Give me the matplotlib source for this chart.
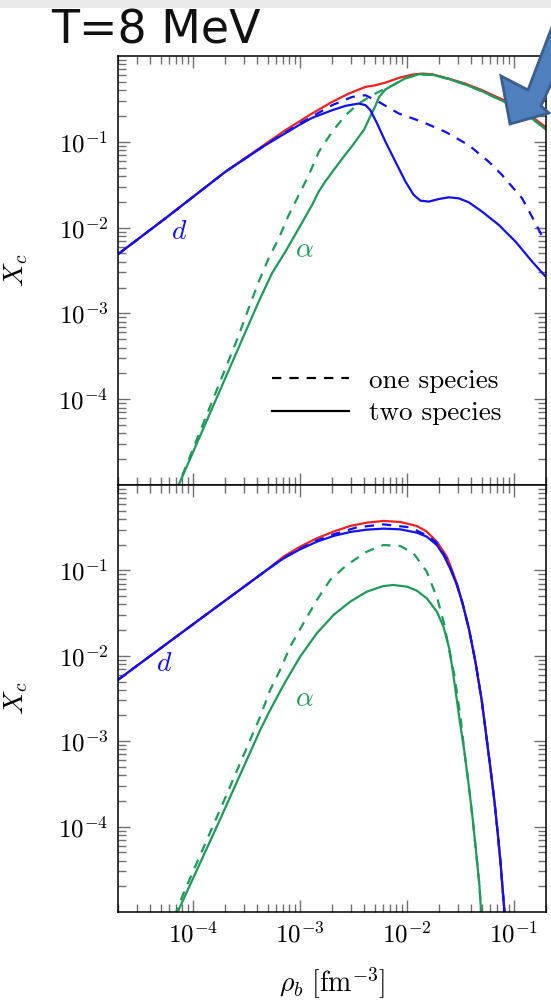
import numpy as np
import matplotlib
matplotlib.use("Agg")
import matplotlib.pyplot as plt
from matplotlib.lines import Line2D
from matplotlib.patches import Polygon, Rectangle
from matplotlib.ticker import LogLocator, NullFormatter

plt.rcParams['mathtext.fontset'] = 'cm'
plt.rcParams['font.family'] = ['cmr10', 'DejaVu Serif']
plt.rcParams['axes.formatter.use_mathtext'] = True

# ---------------- data (log10 values) ----------------
# upper panel
top_tot_lx = [-4.707, -4.255, -3.695, -3.321, -3.134, -3.009, -2.885, -2.698, -2.542, -2.386, -2.293, -2.199,
              -2.075, -1.950, -1.857, -1.763, -1.607, -1.452, -1.296, -1.140, -0.984, -0.829, -0.704]
top_tot_ly = [-2.318, -1.891, -1.349, -1.025, -0.864, -0.767, -0.670, -0.535, -0.438, -0.360, -0.341, -0.310,
              -0.256, -0.217, -0.205, -0.213, -0.264, -0.322, -0.399, -0.488, -0.574, -0.709, -0.826]

top_d_two_lx = [-4.707, -4.255, -3.695, -3.321, -3.009, -2.885, -2.698, -2.573, -2.449, -2.386, -2.340, -2.277,
                -2.199, -2.106, -2.012, -1.935, -1.872, -1.794, -1.701, -1.607, -1.514, -1.421, -1.296, -1.140,
                -0.984, -0.829, -0.704]
top_d_two_ly = [-2.318, -1.891, -1.349, -1.039, -0.806, -0.721, -0.632, -0.581, -0.554, -0.573, -0.632, -0.787,
                -1.000, -1.232, -1.465, -1.620, -1.686, -1.697, -1.667, -1.647, -1.659, -1.705, -1.814, -1.969,
                -2.163, -2.395, -2.570]

top_d_one_lx = [-4.707, -4.255, -3.695, -3.321, -3.009, -2.885, -2.698, -2.511, -2.386, -2.262, -2.075, -1.857,
                -1.639, -1.421, -1.234, -1.109, -0.922, -0.797, -0.710]
top_d_one_ly = [-2.318, -1.891, -1.349, -1.035, -0.795, -0.705, -0.573, -0.477, -0.457, -0.535, -0.670, -0.767,
                -0.884, -1.039, -1.232, -1.388, -1.659, -1.949, -2.163]

top_a_two_lx = [-4.16, -3.383, -3.259, -3.134, -3.009, -2.885, -2.823, -2.760, -2.636, -2.50, -2.40, -2.34, -2.30,
                -2.26, -2.20, -2.137, -2.013, -1.888, -1.763, -1.607, -1.452, -1.296, -1.140, -0.984, -0.829, -0.704]
top_a_two_ly = [-5.08, -2.860, -2.530, -2.279, -2.008, -1.736, -1.58, -1.46, -1.25, -1.03, -0.86, -0.70, -0.60,
                -0.48, -0.39, -0.345, -0.26, -0.213, -0.218, -0.268, -0.333, -0.411, -0.504, -0.593, -0.729, -0.853]

top_a_one_lx = [-4.16, -3.586, -3.477, -3.383, -3.290, -3.196, -3.103, -3.009, -2.916, -2.822, -2.698, -2.573,
                -2.449, -2.324, -2.199, -2.137, -2.013, -1.888, -1.763, -1.607, -1.452, -1.296, -1.140, -0.984,
                -0.829, -0.704]
top_a_one_ly = [-5.08, -3.306, -2.938, -2.628, -2.356, -2.124, -1.853, -1.620, -1.387, -1.116, -0.884, -0.690,
                -0.554, -0.457, -0.380, -0.345, -0.26, -0.213, -0.218, -0.268, -0.333, -0.411, -0.504, -0.593,
                -0.729, -0.853]

# lower panel
bot_d_two_lx = [-4.710, -4.243, -3.775, -3.308, -3.152, -2.997, -2.841, -2.685, -2.529, -2.374, -2.218, -2.062,
                -1.906, -1.813, -1.719, -1.657, -1.595, -1.532, -1.480, -1.420, -1.360, -1.300, -1.258, -1.218,
                -1.180, -1.148, -1.122, -1.100, -1.083]
bot_d_two_ly = [-2.291, -1.858, -1.425, -0.995, -0.859, -0.753, -0.664, -0.597, -0.550, -0.523, -0.511, -0.519,
                -0.558, -0.605, -0.703, -0.820, -0.976, -1.171, -1.38, -1.68, -2.06, -2.52, -2.926, -3.319,
                -3.712, -4.105, -4.45, -4.80, -5.05]

bot_tot_lx = [-4.710, -4.243, -3.775, -3.308, -3.152, -2.997, -2.841, -2.685, -2.529, -2.374, -2.218, -2.062,
              -1.906, -1.813, -1.719, -1.626, -1.595, -1.532, -1.480, -1.420, -1.360, -1.300, -1.258, -1.218,
              -1.180, -1.148, -1.122, -1.100, -1.083]
bot_tot_ly = [-2.291, -1.858, -1.425, -0.995, -0.839, -0.722, -0.624, -0.546, -0.480, -0.441, -0.421, -0.433,
              -0.480, -0.546, -0.664, -0.839, -0.937, -1.151, -1.38, -1.68, -2.06, -2.52, -2.926, -3.319,
              -3.712, -4.105, -4.45, -4.80, -5.05]

bot_d_one_lx = [-4.710, -4.243, -3.775, -3.308, -3.152, -2.997, -2.841, -2.685, -2.467, -2.218, -1.969, -1.797,
                -1.719, -1.626, -1.532, -1.480, -1.420, -1.360, -1.300, -1.258, -1.218, -1.180, -1.148, -1.122,
                -1.100, -1.083]
bot_d_one_ly = [-2.291, -1.858, -1.425, -0.995, -0.855, -0.745, -0.650, -0.578, -0.496, -0.461, -0.496, -0.600,
                -0.680, -0.870, -1.165, -1.38, -1.68, -2.06, -2.52, -2.926, -3.319, -3.712, -4.105, -4.45,
                -4.80, -5.05]

bot_a_two_lx = [-4.16, -3.75, -3.370, -3.277, -3.152, -2.997, -2.841, -2.685, -2.529, -2.374, -2.218, -2.124,
                -2.000, -1.906, -1.813, -1.719, -1.657, -1.600, -1.556, -1.509, -1.462, -1.421, -1.384, -1.352,
                -1.321, -1.303]
bot_a_two_ly = [-5.05, -3.93, -2.869, -2.635, -2.342, -2.010, -1.737, -1.522, -1.366, -1.249, -1.183, -1.171,
                -1.190, -1.237, -1.327, -1.483, -1.66, -1.93, -2.30, -2.73, -3.12, -3.515, -3.91, -4.30,
                -4.69, -5.05]

bot_a_one_lx = [-4.17, -4.100, -3.72, -3.370, -3.277, -3.184, -3.090, -2.966, -2.841, -2.716, -2.561, -2.374,
                -2.218, -2.062, -1.937, -1.813, -1.713, -1.650, -1.603, -1.556, -1.524, -1.493, -1.462, -1.421,
                -1.384, -1.352, -1.321, -1.303]
bot_a_one_ly = [-5.05, -4.82, -3.73, -2.713, -2.400, -2.166, -1.893, -1.620, -1.347, -1.112, -0.937, -0.781,
                -0.703, -0.714, -0.800, -1.015, -1.335, -1.63, -1.944, -2.219, -2.494, -2.769, -3.12, -3.515,
                -3.91, -4.30, -4.69, -5.05]

xlim = (2e-5, 0.2)
ylim = (1e-5, 1.0)
yticks = [1e-4, 1e-3, 1e-2, 1e-1]
xticks = [1e-4, 1e-3, 1e-2, 1e-1]
legend_labels = ["one species", "two species"]
title_text = "T=8 MeV"

RED = '#f02020'
BLUE = '#1010f0'
GREEN = '#1e9a5a'
LW = 1.6
DASH = (4.2, 3.6)

# ---------------- figure ----------------
W, H = 551, 1001
fig = plt.figure(figsize=(W / 100, H / 100), dpi=100)

def fx(px):
    return px / W

def fy(py):
    return 1 - py / H

axL, axR = 118, 546
top_y0, mid_y, bot_y1 = 56, 485, 912
ax1 = fig.add_axes([fx(axL), fy(mid_y), fx(axR) - fx(axL), fy(top_y0) - fy(mid_y)])
ax2 = fig.add_axes([fx(axL), fy(bot_y1), fx(axR) - fx(axL), fy(mid_y) - fy(bot_y1)])

def p(l):
    return 10 ** np.asarray(l)

kw = dict(lw=LW, solid_joinstyle='round', dash_joinstyle='round', solid_capstyle='round')

# upper panel curves
ax1.plot(p(top_tot_lx), p(top_tot_ly), color=RED, **kw)
ax1.plot(p(top_a_two_lx), p(top_a_two_ly), color=GREEN, **kw)
ax1.plot(p(top_a_one_lx), p(top_a_one_ly), color=GREEN, ls=(0, DASH), **kw)
ax1.plot(p(top_d_one_lx), p(top_d_one_ly), color=BLUE, ls=(0, DASH), **kw)
ax1.plot(p(top_d_two_lx), p(top_d_two_ly), color=BLUE, **kw)

# lower panel curves
ax2.plot(p(bot_tot_lx), p(bot_tot_ly), color=RED, **kw)
ax2.plot(p(bot_a_one_lx), p(bot_a_one_ly), color=GREEN, ls=(0, DASH), **kw)
ax2.plot(p(bot_a_two_lx), p(bot_a_two_ly), color=GREEN, **kw)
ax2.plot(p(bot_d_one_lx), p(bot_d_one_ly), color=BLUE, ls=(0, DASH), **kw)
ax2.plot(p(bot_d_two_lx), p(bot_d_two_ly), color=BLUE, **kw)

# curve labels
ax1.text(10 ** -4.13, 10 ** -2.05, r'$d$', color=BLUE, fontsize=20, ha='center', va='center')
ax1.text(10 ** -2.96, 10 ** -2.26, r'$\alpha$', color=GREEN, fontsize=20, ha='center', va='center')
ax2.text(10 ** -4.27, 10 ** -2.09, r'$d$', color=BLUE, fontsize=20, ha='center', va='center')
ax2.text(10 ** -2.96, 10 ** -2.50, r'$\alpha$', color=GREEN, fontsize=20, ha='center', va='center')

for ax in (ax1, ax2):
    ax.set_xscale('log')
    ax.set_yscale('log')
    ax.set_xlim(*xlim)
    ax.set_ylim(*ylim)
    ax.set_yticks(yticks)
    ax.set_xticks(xticks)
    ax.xaxis.set_minor_locator(LogLocator(base=10, subs=np.arange(2, 10), numticks=20))
    ax.yaxis.set_minor_locator(LogLocator(base=10, subs=np.arange(2, 10), numticks=20))
    ax.xaxis.set_minor_formatter(NullFormatter())
    ax.yaxis.set_minor_formatter(NullFormatter())
    ax.tick_params(which='both', direction='in', top=True, right=True, color='#707070', width=1.0, labelsize=18)
    ax.tick_params(which='major', length=8.5, pad=7)
    ax.tick_params(which='minor', length=5.5)
    for s in ax.spines.values():
        s.set_linewidth(1.1)
        s.set_color('black')
    ax.set_ylabel(r'$X_c$', fontsize=20)
    ax.yaxis.set_label_coords(-0.205, 0.5)

ax1.tick_params(axis='x', labelbottom=False)
ax2.set_xlabel(r'$\rho_b\ [\mathrm{fm}^{-3}]$', fontsize=20)
ax2.xaxis.set_label_coords(0.5, -0.125)

handles = [Line2D([], [], color='black', lw=LW, ls=(0, DASH)),
           Line2D([], [], color='black', lw=LW)]
ax1.legend(handles, legend_labels, loc='upper left', bbox_to_anchor=(0.36, 0.271),
           frameon=False, fontsize=19.5, handlelength=2.85, handletextpad=0.72,
           labelspacing=0.32, borderpad=0, borderaxespad=0)

# slide decorations
fig.patches.append(Rectangle((0, fy(8)), 1, fy(0) - fy(8), transform=fig.transFigure,
                             facecolor='#eaeaea', edgecolor='none', zorder=0))
fig.text(fx(51), fy(44), title_text, fontsize=33, family='DejaVu Sans',
         color='#111111', ha='left', va='baseline')

arrow_px = [(510, 124), (501, 76), (528, 90), (563, -2), (590, -2), (541, 106), (549, 113)]
arrow = Polygon([(fx(a), fy(b)) for a, b in arrow_px], closed=True, transform=fig.transFigure,
                facecolor='#4f7fbd', edgecolor='#3a5f8e', linewidth=2.0, zorder=10)
fig.patches.append(arrow)

fig.savefig('out.png', dpi=100)
